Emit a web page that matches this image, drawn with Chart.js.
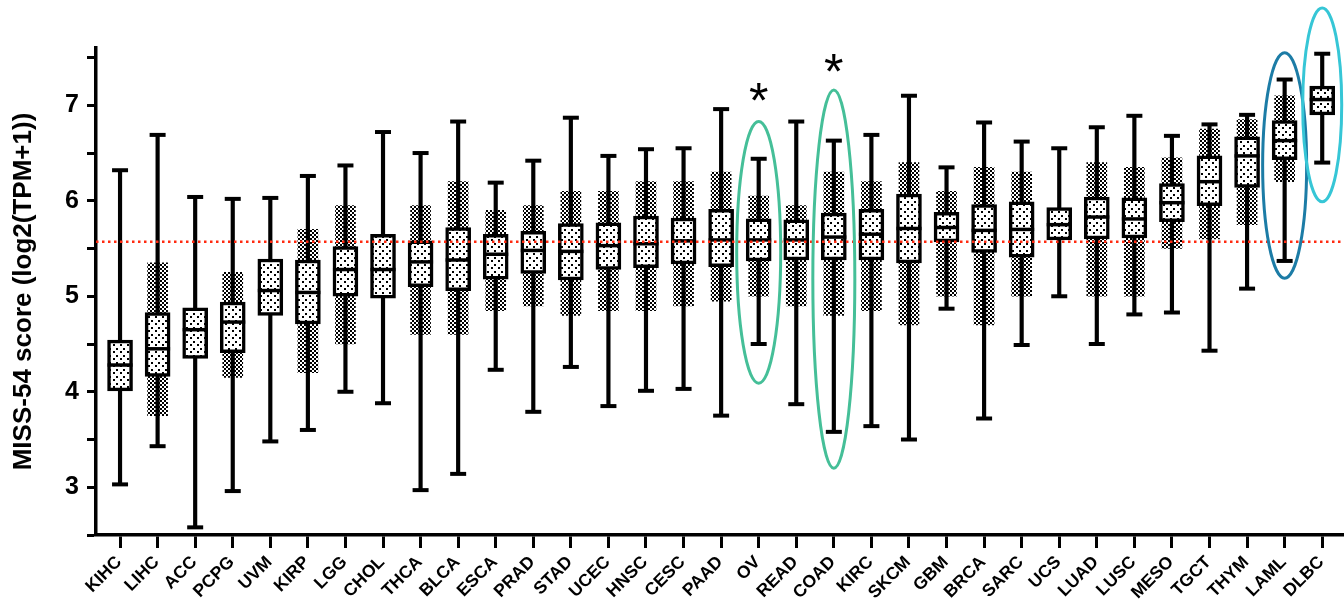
<!DOCTYPE html>
<html>
<head>
<meta charset="utf-8">
<script src="https://cdn.jsdelivr.net/npm/chart.js@4.4.1/dist/chart.umd.min.js"></script>
<style>
  html, body { margin: 0; background: #fff; overflow: hidden; }
  #chart { display: block; }
</style>
</head>
<body>
<canvas id="chart" width="1344" height="600"></canvas>
<script>
// values
const categories = ['KIHC', 'LIHC', 'ACC', 'PCPG', 'UVM', 'KIRP', 'LGG', 'CHOL', 'THCA', 'BLCA', 'ESCA',
  'PRAD', 'STAD', 'UCEC', 'HNSC', 'CESC', 'PAAD', 'OV', 'READ', 'COAD', 'KIRC', 'SKCM', 'GBM', 'BRCA',
  'SARC', 'UCS', 'LUAD', 'LUSC', 'MESO', 'TGCT', 'THYM', 'LAML', 'DLBC'];
const whiskerMin = [3.03, 3.43, 2.58, 2.96, 3.48, 3.60, 4.00, 3.88, 2.97, 3.14, 4.23,
  3.79, 4.26, 3.85, 4.01, 4.03, 3.75, 4.50, 3.87, 3.58, 3.64, 3.50, 4.87, 3.72,
  4.49, 5.00, 4.50, 4.81, 4.83, 4.43, 5.08, 5.37, 6.40];
const q1 = [4.01, 4.16, 4.35, 4.41, 4.80, 4.71, 5.00, 4.98, 5.10, 5.06, 5.18,
  5.24, 5.17, 5.28, 5.30, 5.34, 5.31, 5.37, 5.38, 5.38, 5.38, 5.35, 5.57, 5.46,
  5.41, 5.59, 5.60, 5.61, 5.78, 5.95, 6.14, 6.43, 6.90];
const median = [4.28, 4.45, 4.65, 4.73, 5.06, 5.04, 5.28, 5.28, 5.36, 5.38, 5.44,
  5.48, 5.47, 5.53, 5.55, 5.58, 5.59, 5.59, 5.59, 5.62, 5.65, 5.71, 5.72, 5.69,
  5.70, 5.75, 5.83, 5.81, 5.98, 6.20, 6.47, 6.63, 7.06];
const q3 = [4.54, 4.83, 4.88, 4.94, 5.39, 5.38, 5.52, 5.65, 5.58, 5.72, 5.65,
  5.68, 5.76, 5.77, 5.84, 5.82, 5.91, 5.81, 5.80, 5.87, 5.91, 6.07, 5.88, 5.96,
  5.99, 5.93, 6.04, 6.03, 6.18, 6.47, 6.67, 6.84, 7.20];
const whiskerMax = [6.32, 6.69, 6.04, 6.02, 6.03, 6.26, 6.37, 6.72, 6.50, 6.83, 6.19,
  6.42, 6.87, 6.47, 6.54, 6.55, 6.96, 6.44, 6.83, 6.63, 6.69, 7.10, 6.35, 6.82,
  6.62, 6.55, 6.77, 6.89, 6.68, 6.80, 6.90, 7.27, 7.54];
// extent of the dense cloud of sample dots (null where the dots are sparse)
const cloudLow = [null, 3.75, null, 4.15, null, 4.20, 4.50, null, 4.60, 4.60, 4.85,
  4.90, 4.80, 4.85, 4.85, 4.90, 4.95, 5.00, 4.90, 4.80, 4.85, 4.70, 5.00, 4.70,
  5.00, null, 5.00, 5.00, 5.50, 5.60, 5.75, 6.20, null];
const cloudHigh = [null, 5.35, null, 5.25, null, 5.70, 5.95, null, 5.95, 6.20, 5.90,
  5.95, 6.10, 6.10, 6.20, 6.20, 6.30, 6.05, 5.95, 6.30, 6.20, 6.40, 6.10, 6.35,
  6.30, null, 6.40, 6.35, 6.45, 6.75, 6.85, 7.10, null];
const referenceLevel = 5.57;
const yTickValues = [2.5, 3, 3.5, 4, 4.5, 5, 5.5, 6, 6.5, 7, 7.5];

// highlighted groups
const ellipseCats = ['OV', 'COAD', 'LAML', 'DLBC'];
const ellipseTop = [6.83, 7.16, 7.55, 8.02];
const ellipseBottom = [4.09, 3.20, 5.19, 5.99];
const ellipseColors = ['#45bf98', '#45bf98', '#1c7ca6', '#36c6d6'];
const ellipseHalfWidth = [22, 21, 22, 19.5];
const starCats = ['OV', 'COAD'];
const starLevel = [7.14, 7.44];

const canvas = document.getElementById('chart');
const ctx = canvas.getContext('2d');

function dotPattern(size, dots, bg) {
  const tile = document.createElement('canvas');
  tile.width = tile.height = size;
  const g = tile.getContext('2d');
  if (bg) { g.fillStyle = bg; g.fillRect(0, 0, size, size); }
  g.fillStyle = '#000';
  dots.forEach(d => g.fillRect(d[0], d[1], 2, 2));
  return ctx.createPattern(tile, 'repeat');
}
const boxFill = dotPattern(7, [[1, 1], [4, 5]], '#fff');
const cloudFill = dotPattern(4, [[0, 0], [2, 2]], null);

const ranges = (lo, hi) => lo.map((v, i) => (v == null ? null : { x: i, y: [v, hi[i]] })).filter(Boolean);
const points = vals => vals.map((v, i) => ({ x: i, y: v }));

// the plot area runs right up to the canvas edge in the figure
const fullWidthPlugin = {
  id: 'fullWidth',
  afterLayout(chart) {
    const x = chart.scales.x;
    const right = chart.width;
    if (x.right < right - 0.5) {
      x.right = right;
      x.width = right - x.left;
      chart.chartArea.right = right;
      chart.chartArea.width = right - chart.chartArea.left;
      x.configure();
    }
  }
};

const highlightPlugin = {
  id: 'highlight',
  afterDatasetsDraw(chart) {
    const { ctx: c, scales: { x, y } } = chart;
    c.save();
    ellipseCats.forEach((cat, k) => {
      const cx = x.getPixelForValue(categories.indexOf(cat));
      const top = y.getPixelForValue(ellipseTop[k]);
      const bottom = y.getPixelForValue(ellipseBottom[k]);
      c.beginPath();
      c.ellipse(cx, (top + bottom) / 2, ellipseHalfWidth[k], (bottom - top) / 2, 0, 0, Math.PI * 2);
      c.strokeStyle = ellipseColors[k];
      c.lineWidth = 3;
      c.stroke();
    });
    c.fillStyle = '#000';
    c.font = '50px "Liberation Sans", Arial, sans-serif';
    c.textAlign = 'center';
    c.textBaseline = 'alphabetic';
    starCats.forEach((cat, k) => {
      const cx = x.getPixelForValue(categories.indexOf(cat));
      const cy = y.getPixelForValue(starLevel[k]);
      const m = c.measureText('*');
      c.fillText('*', cx, cy + (m.actualBoundingBoxAscent - m.actualBoundingBoxDescent) / 2);
    });
    c.restore();
  }
};

new Chart(canvas, {
  type: 'bar',
  data: {
    datasets: [
      {
        label: 'range',
        data: ranges(whiskerMin, whiskerMax),
        backgroundColor: '#000',
        barThickness: 3.5,
        grouped: false,
        order: 6
      },
      {
        label: 'samples',
        data: ranges(cloudLow, cloudHigh),
        backgroundColor: cloudFill,
        barThickness: 20,
        grouped: false,
        order: 5
      },
      {
        label: 'IQR',
        data: ranges(q1, q3),
        backgroundColor: boxFill,
        borderColor: '#000',
        borderWidth: 3.5,
        borderSkipped: false,
        barThickness: 25,
        grouped: false,
        order: 4
      },
      {
        type: 'scatter',
        label: 'median',
        data: points(median),
        pointStyle: 'line',
        radius: 12.5,
        borderWidth: 3.5,
        borderColor: '#000',
        order: 3
      },
      {
        type: 'scatter',
        label: 'caps',
        data: points(whiskerMin).concat(points(whiskerMax)),
        pointStyle: 'line',
        radius: 8,
        borderWidth: 4,
        borderColor: '#000',
        clip: false,
        order: 2
      },
      {
        type: 'line',
        label: 'reference',
        data: [{ x: -0.64, y: referenceLevel }, { x: 32.58, y: referenceLevel }],
        borderColor: '#ff2a10',
        borderWidth: 2.5,
        borderDash: [2.5, 3.5],
        pointRadius: 0,
        order: 0
      }
    ]
  },
  options: {
    responsive: false,
    animation: false,
    devicePixelRatio: 1,
    layout: { padding: { top: 48, right: 0, left: 0, bottom: 0 } },
    plugins: { legend: { display: false }, tooltip: { enabled: false } },
    scales: {
      x: {
        type: 'linear',
        min: -0.64,
        max: 32.58,
        offset: false,
        afterBuildTicks: s => { s.ticks = categories.map((_, i) => ({ value: i })); },
        afterFit: s => { s.height = 65; s.paddingLeft = 0; s.paddingRight = 0; },
        grid: { offset: false, drawOnChartArea: false, tickLength: 13, tickWidth: 3, tickColor: '#000' },
        border: { display: true, width: 3.5, color: '#000' },
        ticks: {
          autoSkip: false,
          maxRotation: 45,
          minRotation: 45,
          padding: 4,
          labelOffset: -1,
          color: '#000',
          font: { family: '"Liberation Sans", Arial, sans-serif', size: 17.5, weight: 'bold' },
          callback: v => categories[v]
        }
      },
      y: {
        min: 2.5,
        max: 7.6,
        afterBuildTicks: s => { s.ticks = yTickValues.map(v => ({ value: v })); },
        afterFit: s => { s.width = 96; },
        grid: { drawOnChartArea: false, tickLength: 9, tickWidth: 3, tickColor: '#000' },
        border: { display: true, width: 3.5, color: '#000' },
        ticks: {
          padding: 8,
          color: '#000',
          font: { family: '"Liberation Sans", Arial, sans-serif', size: 25, weight: 'bold' },
          callback: v => (Number.isInteger(v) ? v : '')
        },
        title: {
          display: true,
          text: 'MISS-54 score (log2(TPM+1))',
          color: '#000',
          padding: { top: 8, bottom: 0 },
          font: { family: '"Liberation Sans", Arial, sans-serif', size: 26, weight: 'bold' }
        }
      }
    }
  },
  plugins: [fullWidthPlugin, highlightPlugin]
});
</script>
</body>
</html>
